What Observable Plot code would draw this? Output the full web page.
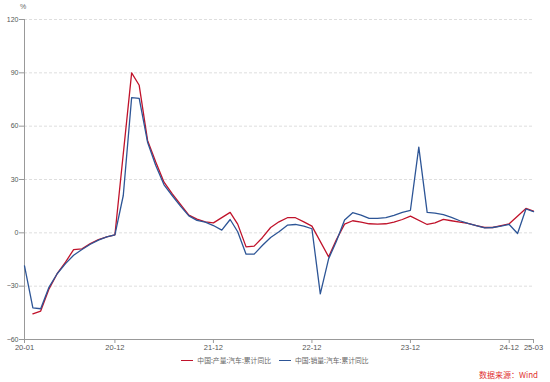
<!DOCTYPE html>
<html>
<head>
<meta charset="utf-8">
<script src="https://cdn.jsdelivr.net/npm/d3@7"></script>
<script src="https://cdn.jsdelivr.net/npm/@observablehq/plot@0.6"></script>
<style>
  html, body { margin: 0; padding: 0; background: #fff; }
  body { width: 550px; height: 382px; overflow: hidden; position: relative; font-family: "Liberation Sans", Arial, sans-serif; }
  #pct { position: absolute; left: 20px; top: 3px; font-size: 7px; color: #666; z-index: 2; }
  #chart { position: absolute; left: 0; top: 0; z-index: 1; }
  #legend { position: absolute; top: 355px; left: 0; width: 550px; display: flex; justify-content: center; gap: 8px; font-family: "Noto Sans CJK SC", sans-serif; font-size: 6.8px; color: #666; z-index: 2; }
  #legend .item { display: flex; align-items: center; gap: 4px; }
  #legend .sw { width: 12px; height: 0; border-top: 1.3px solid; }
  #source { position: absolute; top: 369px; left: 479px; font-family: "Noto Sans CJK SC", sans-serif; font-size: 8px; color: #e0302f; white-space: nowrap; z-index: 2; }
</style>
</head>
<body>
<div id="chart"></div>
<div id="pct">%</div>
<div id="legend"></div>
<div id="source">数据来源：Wind</div>
<script>
// Monthly axis: 2020-01 … 2025-03
const months = d3.utcMonth.range(new Date(Date.UTC(2020, 0, 1)), new Date(Date.UTC(2025, 3, 1)));

// 中国:产量:汽车:累计同比 (no January figures)
const production = [
  null, -45.6, -44, -31.5, -23, -16.5, -9.4, -9, -6, -3.8, -2.3, -1.1,
  null, 90, 83, 52, 40, 28.5, 22, 16, 10, 7.7, 6.2, 5.6,
  null, 11.5, 4.9, -7.9, -7.5, -2.6, 3.0, 6.2, 8.5, 8.5, 6.2, 3.8,
  null, -13.5, -4, 4.9, 6.8, 6, 5.1, 4.9, 5.1, 6.0, 7.5, 9.4,
  null, 4.7, 5.6, 7.6, 6.8, 6.0, 5.3, 4.1, 3.0, 3.0, 4.1, 5.1,
  null, 13.7, 12.2
];

// 中国:销量:汽车:累计同比
const sales = [
  -18.6, -42.2, -42.7, -30.5, -23, -17.3, -12.6, -9.4, -6.4, -4.1, -2.3, -1.1,
  21, 76.1, 75.6, 51, 38, 27, 21, 15, 9.5, 7, 6, 4.1,
  1.5, 7.5, 0.6, -12, -12, -7, -2.6, 0.6, 4.3, 4.7, 3.8, 2.3,
  -34.3, -14.5, -5, 7.2, 11.3, 10, 8.1, 8.1, 8.5, 9.8, 11.5, 12.7,
  48.2, 11.5, 11.1, 10.2, 8.7, 6.8, 5.3, 4.0, 2.8, 3.0, 3.8, 4.7,
  -0.4, 13.4, 11.9
];

const seriesNames = ["中国:产量:汽车:累计同比", "中国:销量:汽车:累计同比"];
const seriesColors = ["#c0132b", "#2d5596"];
const xTickLabels = ["20-01", "20-12", "21-12", "22-12", "23-12", "24-12", "25-03"];
const yTicks = [-60, -30, 0, 30, 60, 90, 120];

const parseTick = d3.utcParse("%y-%m");
const xTickDates = xTickLabels.map(parseTick);

const prodData = months.map((date, i) => ({date, value: production[i]})).filter(d => d.value != null);
const salesData = months.map((date, i) => ({date, value: sales[i]})).filter(d => d.value != null);

const chart = Plot.plot({
  width: 550,
  height: 354,
  marginLeft: 24,
  marginRight: 17,
  marginTop: 19,
  marginBottom: 15,
  style: { fontFamily: "'Liberation Sans', Arial, sans-serif", fontSize: "7.5px", color: "#555", background: "transparent", overflow: "visible" },
  x: { type: "utc", domain: [months[0], months[months.length - 1]] },
  y: { domain: [-60, 120] },
  marks: [
    Plot.ruleY(yTicks.filter(d => d > -60), { stroke: "#dedede", strokeDasharray: "3,2" }),
    Plot.axisY({ ticks: yTicks, tickSize: 5, tickPadding: 1, stroke: "#999", fill: "#555", fontSize: 7, label: null }),
    Plot.ruleX([months[0]], { stroke: "#999" }),
    Plot.ruleY([-60], { stroke: "#999" }),
    Plot.axisX({ ticks: xTickDates, tickFormat: d3.utcFormat("%y-%m"), tickSize: 4, tickPadding: 1, stroke: "#999", fill: "#555", label: null }),
    Plot.line(prodData, { x: "date", y: "value", stroke: seriesColors[0], strokeWidth: 1.3 }),
    Plot.line(salesData, { x: "date", y: "value", stroke: seriesColors[1], strokeWidth: 1.3 })
  ]
});
document.getElementById("chart").appendChild(chart);

const legend = document.getElementById("legend");
seriesNames.forEach((name, i) => {
  const item = document.createElement("div");
  item.className = "item";
  const sw = document.createElement("span");
  sw.className = "sw";
  sw.style.borderTopColor = seriesColors[i];
  const label = document.createElement("span");
  label.textContent = name;
  item.appendChild(sw);
  item.appendChild(label);
  legend.appendChild(item);
});
</script>
</body>
</html>
